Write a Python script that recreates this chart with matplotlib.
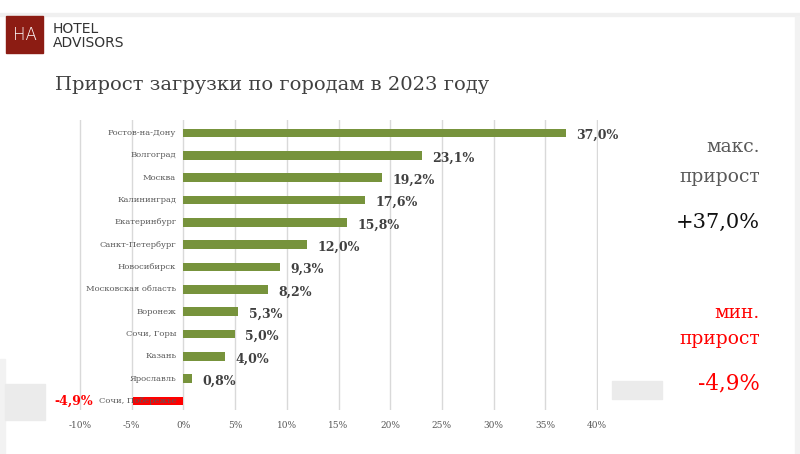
import matplotlib
matplotlib.use('Agg')
import matplotlib.pyplot as plt
from matplotlib.patches import Rectangle

# Data
cities = ['Ростов-на-Дону', 'Волгоград', 'Москва', 'Калининград', 'Екатеринбург',
          'Санкт-Петербург', 'Новосибирск', 'Московская область', 'Воронеж',
          'Сочи, Горы', 'Казань', 'Ярославль', 'Сочи, Побережье']
growth = [37.0, 23.1, 19.2, 17.6, 15.8, 12.0, 9.3, 8.2, 5.3, 5.0, 4.0, 0.8, -4.9]
x_ticks = [-10, -5, 0, 5, 10, 15, 20, 25, 30, 35, 40]

green = '#77933c'
red = '#ff0000'
serif = 'DejaVu Serif'

fig = plt.figure(figsize=(8, 4.54), dpi=100)

# background decorations
fig.patches.append(Rectangle((0, 1 - 16 / 454), 1, 3 / 454, transform=fig.transFigure,
                             color='#f0f0f0', zorder=0))
fig.patches.append(Rectangle((795 / 800, 0), 5 / 800, 1 - 16 / 454, transform=fig.transFigure,
                             color='#f2f2f2', zorder=0))
fig.patches.append(Rectangle((0, 0), 5 / 800, 95 / 454, transform=fig.transFigure,
                             color='#f2f2f2', zorder=0))
fig.patches.append(Rectangle((5 / 800, 34 / 454), 40 / 800, 36 / 454, transform=fig.transFigure,
                             color='#ebebeb', zorder=0))
fig.patches.append(Rectangle((612 / 800, 55 / 454), 50 / 800, 18 / 454, transform=fig.transFigure,
                             color='#ebebeb', zorder=0))

# logo
fig.patches.append(Rectangle((6 / 800, 1 - 53 / 454), 37 / 800, 37 / 454,
                             transform=fig.transFigure, color='#8c1c13', zorder=1))
fig.text(24.5 / 800, 1 - 35 / 454, 'HA', color='white', fontsize=12, ha='center',
         va='center', family='DejaVu Sans', fontweight='light')
fig.text(53 / 800, 1 - 29 / 454, 'HOTEL', color='#333333', fontsize=10, ha='left',
         va='center', family='DejaVu Sans', fontweight='medium')
fig.text(53 / 800, 1 - 43 / 454, 'ADVISORS', color='#333333', fontsize=10, ha='left',
         va='center', family='DejaVu Sans', fontweight='medium')

# title
fig.text(55 / 800, 1 - 85 / 454, 'Прирост загрузки по городам в 2023 году', color='#404040',
         fontsize=14, ha='left', va='center', family=serif)

ax = fig.add_axes([79 / 800, 1 - 410 / 454, 519 / 800, 290 / 454])
pos = list(range(len(cities)))
colors = [green if v >= 0 else red for v in growth]
ax.barh(pos, growth, height=0.38, color=colors, zorder=2)
ax.set_xlim(-10.1, 40.1)
ax.set_ylim(12.4, -0.58)
ax.set_xticks(x_ticks)
ax.set_xticklabels([f'{t}%' for t in x_ticks], fontsize=6.5, color='#595959', family=serif)
ax.tick_params(axis='x', length=0, pad=8)
ax.set_yticks([])
ax.grid(axis='x', color='#d9d9d9', linewidth=1, zorder=0)
for s in ax.spines.values():
    s.set_visible(False)

for i, (c, v) in enumerate(zip(cities, growth)):
    ax.text(-0.7, i, c, ha='right', va='center', fontsize=6, color='#595959',
            family=serif, zorder=3)
    lbl = f'{abs(v):.1f}'.replace('.', ',') + '%'
    if v >= 0:
        ax.text(v + 1.0, i + 0.12, lbl, ha='left', va='center', fontsize=9,
                fontweight='bold', color='#404040', family=serif, zorder=3)
    else:
        ax.text(-8.7, i, '-' + lbl, ha='right', va='center', fontsize=9,
                fontweight='bold', color=red, family=serif, zorder=3)

# side annotations
rx = 760 / 800
fig.text(rx, 1 - 147 / 454, 'макс.', ha='right', va='center', fontsize=13.5,
         color='#595959', family=serif)
fig.text(rx, 1 - 177 / 454, 'прирост', ha='right', va='center', fontsize=13.5,
         color='#595959', family=serif)
fig.text(rx, 1 - 222 / 454, '+37,0%', ha='right', va='center', fontsize=15,
         color='#111111', family=serif)
fig.text(rx, 1 - 313 / 454, 'мин.', ha='right', va='center', fontsize=13.5,
         color=red, family=serif)
fig.text(rx, 1 - 339 / 454, 'прирост', ha='right', va='center', fontsize=13.5,
         color=red, family=serif)
fig.text(rx, 1 - 383 / 454, '-4,9%', ha='right', va='center', fontsize=15.5,
         color=red, family=serif)

fig.savefig('out.png', dpi=100)
